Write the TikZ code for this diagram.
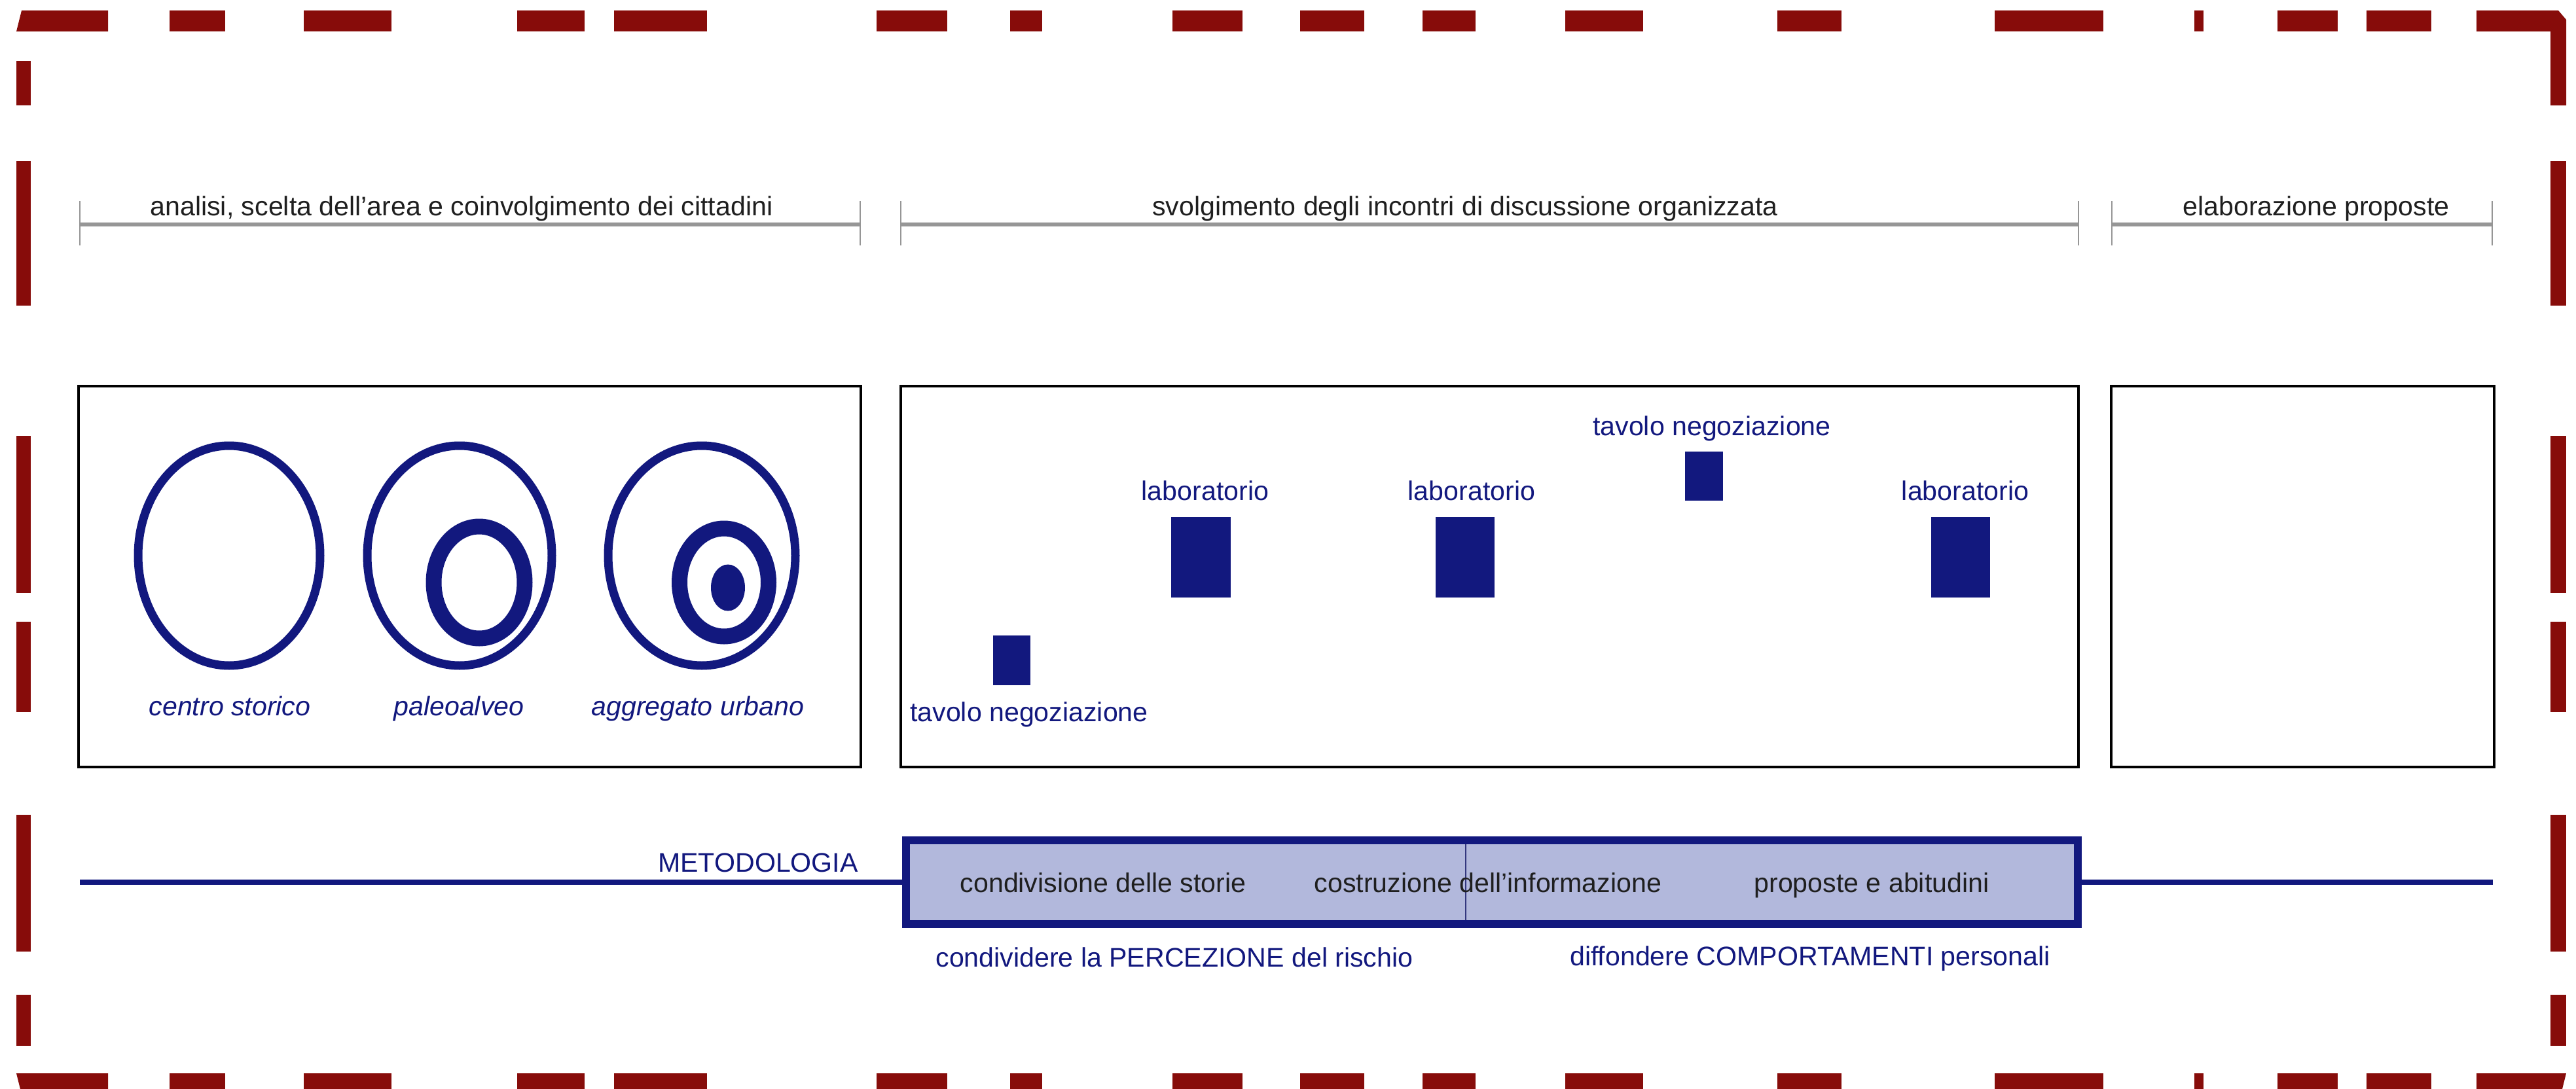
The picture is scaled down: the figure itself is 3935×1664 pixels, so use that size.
\documentclass[tikz,border=0pt]{standalone}
\usepackage{fontspec}
\setmainfont{Liberation Sans}
\usetikzlibrary{calc}
\definecolor{bordeaux}{RGB}{135,12,10}
\definecolor{navy}{RGB}{18,24,126}
\definecolor{lavanda}{RGB}{178,184,220}
\definecolor{grigio}{RGB}{150,150,150}
\tikzset{
    testo/.style={font=\fontsize{11.7}{14}\selectfont, inner sep=0pt, anchor=base, text=black!88},
    blu/.style={testo, text=navy},
    corsivo/.style={blu, font=\fontsize{11.7}{14}\selectfont\itshape},
    cornice/.style={draw=black, line width=0.4mm},
    anello/.style={draw=navy, line width=1.3mm},
    nucleo/.style={draw=navy, line width=2.4mm},
  }

\begin{document}
\begin{tikzpicture}[x=0.1mm, y=-0.1mm]
	          %coordinate in pixel, y verso il basso
	          \useasboundingbox (0,0) rectangle (3935,1664);
	          %cornice tratteggiata
	          \foreach \a/\b in {259/344,464/598,790/893,938/1080,1339/1447,1543/1592,1791/1898,1986/2084,2173/2254,2391/2510,2715/2813,3047/3213,3352/3366,3479/3571,3615/3714} {
	            \fill[bordeaux] (\a,16) rectangle (\b,48);
	            \fill[bordeaux] (\a,1640) rectangle (\b,1672);
	          }
	          \foreach \a/\b in {246/467,666/906,950/1088,1245/1454,1520/1598} {
	            \fill[bordeaux] (25,\a) rectangle (47,\b);
	            \fill[bordeaux] (3896,\a) rectangle (3920,\b);
	          }
	          \fill[bordeaux] (25,93) rectangle (47,161);
	          \fill[bordeaux] (25,48) -- (33,16) -- (165,16) -- (165,48) -- cycle;
	          \fill[bordeaux] (25,1640) -- (165,1640) -- (165,1672) -- (33,1672) -- cycle;
	          \fill[bordeaux] (3783,16) -- (3908,16) -- (3920,30) -- (3920,161) -- (3896,161) -- (3896,48) -- (3783,48) -- cycle;
	          \fill[bordeaux] (3783,1640) -- (3920,1640) -- (3912,1672) -- (3783,1672) -- cycle;
	          %fasi
	          \foreach \a/\b in {122/1314,1376/3175,3226/3807} {
	            \draw[grigio, line width=0.6mm] (\a,343) -- (\b,343);
	            \draw[grigio, line width=0.2mm] (\a,307) -- (\a,375) (\b,307) -- (\b,375);
	          }
	          \node[testo] (fase1) at (705,329) {analisi, scelta dell'area e coinvolgimento dei cittadini};
	          \node[testo] (fase2) at (2238,329) {svolgimento degli incontri di discussione organizzata};
	          \node[testo] (fase3) at (3538,329) {elaborazione proposte};
	          \draw[cornice] (120,590) rectangle (1315,1172);
	          \draw[cornice] (1376,590) rectangle (3175,1172);
	          \draw[cornice] (3225,590) rectangle (3810,1172);
	          %aree
	          \draw[anello] (350,849) ellipse [x radius=13.9mm, y radius=16.8mm];
	          \draw[anello] (702,849) ellipse [x radius=14.1mm, y radius=16.8mm];
	          \draw[nucleo] (732,890) ellipse [x radius=6.95mm, y radius=8.55mm];
	          \draw[anello] (1072,849) ellipse [x radius=14.3mm, y radius=16.8mm];
	          \draw[nucleo] (1106,890) ellipse [x radius=6.8mm, y radius=8.25mm];
	          \fill[navy] (1112,898) ellipse [x radius=2.6mm, y radius=3.55mm];
	          \node[corsivo] (centro) at (351,1093) {centro storico};
	          \node[corsivo] (paleo) at (701,1093) {paleoalveo};
	          \node[corsivo] (aggregato) at (1066,1093) {aggregato urbano};
	          %incontri
	          \fill[navy] (1517,971) rectangle (1574,1047);
	          \fill[navy] (1789,790) rectangle (1880,913);
	          \fill[navy] (2193,790) rectangle (2283,913);
	          \fill[navy] (2574,690) rectangle (2632,765);
	          \fill[navy] (2950,790) rectangle (3040,913);
	          \node[blu] (tavolo1) at (1572,1102) {tavolo negoziazione};
	          \node[blu] (lab1) at (1841,764) {laboratorio};
	          \node[blu] (lab2) at (2248,764) {laboratorio};
	          \node[blu] (tavolo2) at (2615,665) {tavolo negoziazione};
	          \node[blu] (lab3) at (3002,764) {laboratorio};
	          %metodologia
	          \node[draw=navy, fill=lavanda, line width=1.2mm, minimum width=179mm, minimum height=12.8mm, inner sep=0pt] (fasi) at (2279,1348) {};
	          \coordinate (inizio) at (122,1348);
	          \coordinate (fine) at (3808,1348);
	          \coordinate (taglio) at (2239,1348);
	          \draw[navy, line width=0.8mm] (inizio) -- (fasi.west);
	          \draw[navy, line width=0.8mm] (fasi.east) -- (fine);
	          \draw[navy!70!gray, line width=0.2mm, shorten <=1.2mm, shorten >=1.2mm] (taglio |- fasi.north) -- (taglio |- fasi.south);
	          \node[blu] (meto) at (1158,1332) {METODOLOGIA};
	          \node[testo] (storie) at (1685,1363) {condivisione delle storie};
	          \node[testo] (costruzione) at (2273,1363) {costruzione dell'informazione};
	          \node[testo] (proposte) at (2859,1363) {proposte e abitudini};
	          \node[blu] (percezione) at (1794,1477) {condividere la PERCEZIONE del rischio};
	          \node[blu] (comportamenti) at (2765,1475) {diffondere COMPORTAMENTI personali};
\end{tikzpicture}
\end{document}
